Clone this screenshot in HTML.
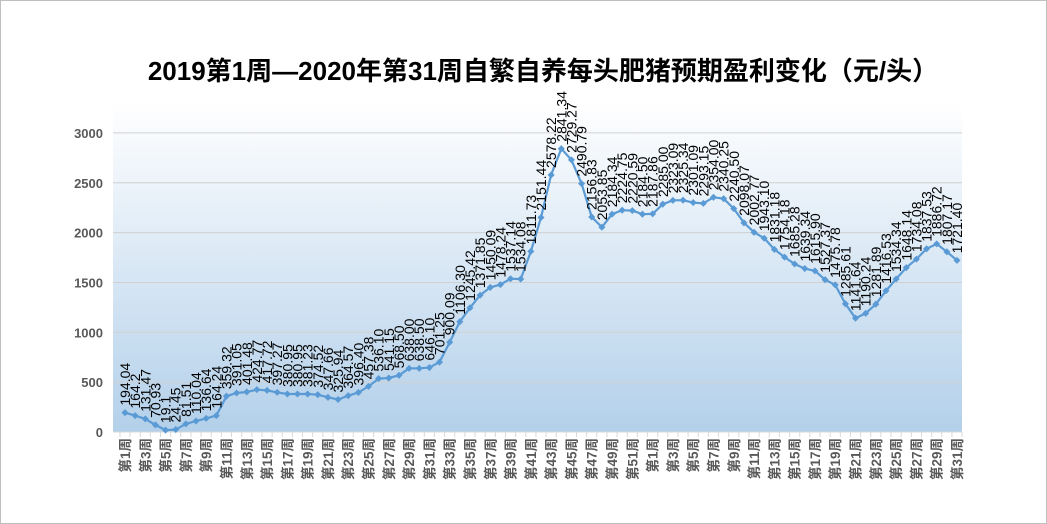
<!DOCTYPE html>
<html><head><meta charset="utf-8"><style>
body{margin:0;background:#fff}
svg{display:block}
</style></head><body>
<svg id="c" width="1047" height="524" xmlns="http://www.w3.org/2000/svg" font-family="Liberation Sans, Noto Sans CJK SC, sans-serif">
<defs><linearGradient id="g" x1="0" y1="0" x2="0" y2="1"><stop offset="0" stop-color="#ffffff"/><stop offset="1" stop-color="#b3d0ea"/></linearGradient></defs>
<rect x="0.5" y="0.5" width="1046" height="523" fill="#fff" stroke="#bfbfbf"/>
<text x="543" y="80" text-anchor="middle" font-size="26" font-weight="bold" fill="#000">2019第1周—2020年第31周自繁自养每头肥猪预期盈利变化（元/头）</text>
<rect x="113" y="103" width="849" height="329" fill="url(#g)"/>
<g id="grid"></g><g id="ser"></g><g id="lab"></g>
</svg>
<script>
var d="194.04,164.2,131.47,70.93,19.1,24.45,81.51,110.04,136.64,164.24,359.32,391.05,401.48,424.77,417.72,397.27,380.95,380.95,381.23,374.52,347.66,325.94,364.57,396.40,457.38,536.10,541.15,568.50,638.00,638.50,646.10,701.25,900.09,1106.30,1245.42,1371.85,1450.09,1478.24,1537.14,1534.08,1811.73,2151.44,2578.22,2841.34,2729.27,2490.79,2156.83,2053.85,2184.34,2224.75,2220.59,2184.50,2187.86,2285.00,2323.09,2325.34,2301.09,2293.15,2354.00,2340.25,2240.50,2098.07,2002.77,1943.10,1831.18,1754.18,1685.28,1639.34,1615.90,1527.37,1475.78,1285.61,1141.64,1190.24,1281.89,1416.53,1534.34,1648.14,1734.08,1837.53,1886.72,1807.17,1721.40".split(",");
var x0=125,dx=(957-125)/82,Y=function(v){return 432-v*0.0997};
var h="";
for(var v=500;v<=3000;v+=500)h+='<line x1="113" x2="962" y1="'+Y(v)+'" y2="'+Y(v)+'" stroke="#d0d0d0"/>';
for(var v=0;v<=3000;v+=500)h+='<text x="103" y="'+(Y(v)+5)+'" text-anchor="end" font-size="13" font-weight="bold" fill="#595959">'+v+'</text>';
h+='<line x1="113" x2="962" y1="432" y2="432" stroke="#d9d9d9"/>';
for(var i=0;i<=83;i++){var x=x0-dx/2+i*dx;h+='<line x1="'+x+'" x2="'+x+'" y1="432" y2="437" stroke="#d9d9d9"/>';}
var pts=[],s="",l="";
for(var i=0;i<83;i++){var v=parseFloat(d[i]),x=x0+i*dx,y=Y(v);pts.push(x.toFixed(1)+","+y.toFixed(1));
s+='<rect x="'+(x-2.5)+'" y="'+(y-2.5)+'" width="5" height="5" transform="rotate(45 '+x+' '+y+')" fill="#5b9bd5"/>';
l+='<text transform="translate('+(x+5)+','+(y-7)+') rotate(-90)" font-size="14" fill="#000">'+d[i]+'</text>';
if(i%2==0){var wk=i<52?i+1:i-51;l+='<text transform="translate('+(x+5)+',438) rotate(-90)" text-anchor="end" font-size="13.5" font-weight="bold" fill="#595959">第'+wk+'周</text>';}}
document.getElementById("grid").innerHTML=h;
document.getElementById("ser").innerHTML='<polyline points="'+pts.join(" ")+'" fill="none" stroke="#5b9bd5" stroke-width="2.2"/>'+s;
document.getElementById("lab").innerHTML=l;
</script>
</body></html>
